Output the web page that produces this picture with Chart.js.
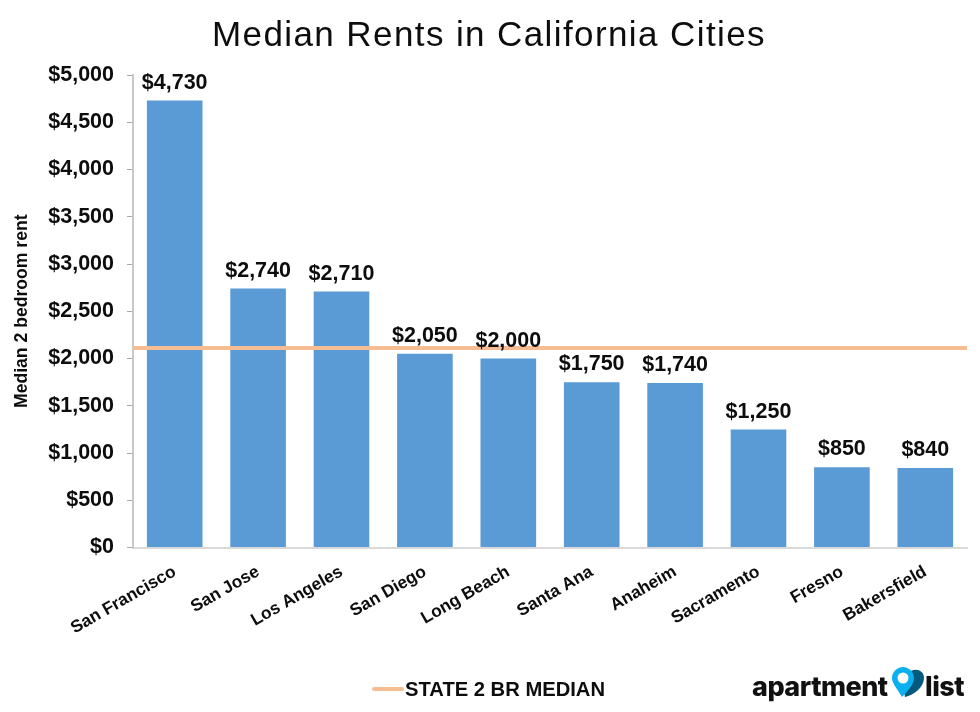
<!DOCTYPE html>
<html>
<head>
<meta charset="utf-8">
<title>Median Rents in California Cities</title>
<script src="https://cdn.jsdelivr.net/npm/chart.js@4"></script>
<style>
  html, body { margin: 0; background: #fff; }
  #wrap { position: relative; width: 980px; height: 712px; overflow: hidden; }
  canvas { position: absolute; left: 0; top: 0; }
  h1 {
    position: absolute; left: 0; top: 14px; width: 978px; margin: 0; text-align: center;
    font: 400 35px "Liberation Sans", sans-serif; letter-spacing: 1.4px; color: #0d0d0d;
  }
  #legend { position: absolute; left: 372px; top: 678px; height: 22px; }
  #legend i { position: absolute; left: 0; top: 9px; width: 32px; height: 4px; border-radius: 2px; background: #f6bc92; }
  #legend b {
    position: absolute; left: 33px; top: 0; white-space: nowrap;
    font: 700 20.2px/22px "Liberation Sans", sans-serif; color: #0d0d0d;
  }
  #logo { position: absolute; left: 752px; top: 668px; width: 214px; height: 36px; }
  #logo span {
    position: absolute; top: 4px; font: 800 27px/30px Inter, sans-serif;
    letter-spacing: -0.5px; color: #111;
  }
  #logo svg { position: absolute; left: 139px; top: -1px; }
</style>
</head>
<body>
<div id="wrap">
  <canvas id="rentChart" width="980" height="712"></canvas>
  <h1>Median Rents in California Cities</h1>
  <div id="legend"><i></i><b id="legendText"></b></div>
  <div id="logo">
    <span style="left:0">apartment</span>
    <svg width="34" height="31" viewBox="0 0 34 31">
      <path d="M14 30 C23 28 33 20 33 11 C33 4 26 1 20 4 L12 18 Z" fill="#04597e"/>
      <path d="M11 30 C5 20 1 16 1 11 C1 5 6 0 12 0 C18 0 23 5 23 11 C23 17 17 24 11 30 Z" fill="#0bb0ee"/>
      <circle cx="12" cy="11" r="5.5" fill="#fff"/>
    </svg>
    <span style="left:173px">list</span>
  </div>
</div>
<script>
// ====== data ======
const CITIES = ['San Francisco', 'San Jose', 'Los Angeles', 'San Diego', 'Long Beach',
  'Santa Ana', 'Anaheim', 'Sacramento', 'Fresno', 'Bakersfield'];
const RENTS = [4730, 2740, 2710, 2050, 2000, 1750, 1740, 1250, 850, 840];
const STATE_MEDIAN = 2110;
const MEDIAN_LABEL = 'STATE 2 BR MEDIAN';
const Y_TITLE = 'Median 2 bedroom rent';

const BAR_COLOR = '#5b9bd5';
const LINE_COLOR = '#f6bc92';
const FONT = '"Liberation Sans", Arial, sans-serif';

document.getElementById('legendText').textContent = MEDIAN_LABEL;

function money(v) {
  return '$' + Number(v).toLocaleString('en-US');
}

// value labels above each bar
const barLabelPlugin = {
  id: 'barLabel',
  afterDatasetsDraw(chart) {
    const { ctx } = chart;
    const meta = chart.getDatasetMeta(1);
    ctx.save();
    ctx.fillStyle = '#0d0d0d';
    ctx.textAlign = 'center';
    ctx.textBaseline = 'bottom';
    ctx.font = 'bold 21.5px ' + FONT;
    meta.data.forEach((bar, i) => {
      ctx.fillText(money(RENTS[i]), bar.x, bar.y - 7);
    });
    ctx.restore();
  }
};

new Chart(document.getElementById('rentChart').getContext('2d'), {
  data: {
    labels: CITIES,
    datasets: [
      {
        type: 'line',
        label: MEDIAN_LABEL,
        data: [{ x: 0, y: STATE_MEDIAN }, { x: 1, y: STATE_MEDIAN }],
        xAxisID: 'x2',
        borderColor: LINE_COLOR,
        backgroundColor: LINE_COLOR,
        borderWidth: 4,
        pointRadius: 0,
        order: 0
      },
      {
        type: 'bar',
        label: 'Median rent',
        data: RENTS,
        backgroundColor: BAR_COLOR,
        grouped: false,
        categoryPercentage: 0.667,
        barPercentage: 1,
        order: 1
      }
    ]
  },
  plugins: [barLabelPlugin],
  options: {
    responsive: false,
    animation: false,
    layout: { padding: { top: 75, right: 13, left: 12, bottom: 8 } },
    scales: {
      x: {
        grid: { display: false },
        border: { color: '#d9d9d9', width: 2 },
        ticks: {
          color: '#0d0d0d',
          font: { family: FONT, size: 17.3, weight: 'bold' },
          minRotation: 30,
          maxRotation: 30,
          autoSkip: false,
          padding: 6
        },
        afterFit(scale) { scale.height = 156.5; }
      },
      x2: { type: 'linear', display: false, min: 0, max: 1 },
      y: {
        min: 0,
        max: 5000,
        grid: { drawOnChartArea: false, color: '#a6a6a6', tickLength: 6 },
        border: { color: '#c8c8c8', width: 2 },
        ticks: {
          stepSize: 500,
          color: '#0d0d0d',
          font: { family: FONT, size: 21.5, weight: 'bold' },
          padding: 13,
          callback: v => money(v)
        },
        title: {
          display: true,
          text: Y_TITLE,
          color: '#0d0d0d',
          font: { family: FONT, size: 17.6, weight: 'bold' },
          padding: 0
        },
        afterFit(scale) { scale.width = 121; }
      }
    },
    plugins: {
      title: { display: false },
      tooltip: { enabled: false },
      legend: { display: false }
    }
  }
});
</script>
</body>
</html>
